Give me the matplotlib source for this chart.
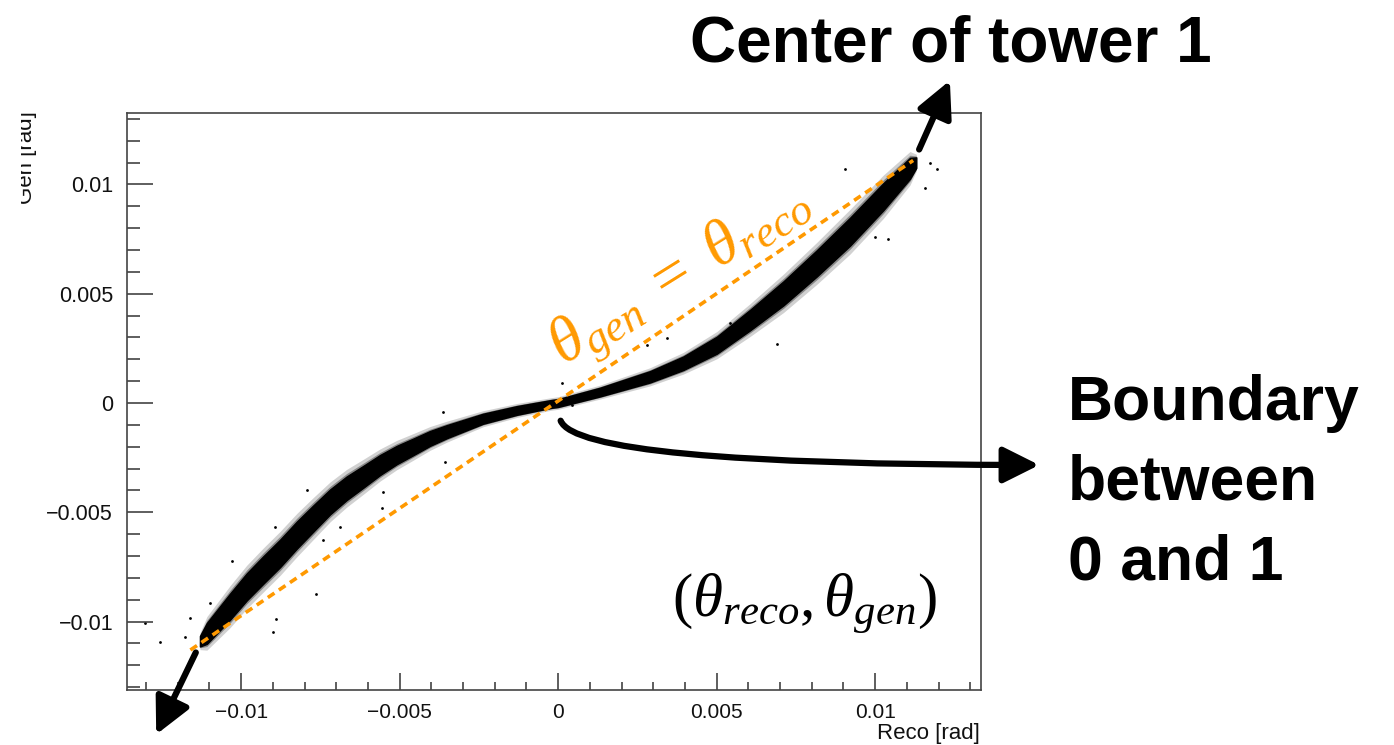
import matplotlib
matplotlib.use("Agg")
import matplotlib.pyplot as plt
from matplotlib.patches import FancyArrowPatch, Rectangle
import numpy as np

# band centre line (reco, gen)
band_x = [-0.0113, -0.01108, -0.01035, -0.00982, -0.0093, -0.00877, -0.00824, -0.00772,
          -0.00719, -0.00667, -0.00614, -0.00562, -0.00509, -0.00456, -0.00404, -0.00351,
          -0.00237, -0.0013, -0.00025, 0.0, 0.00132, 0.0029, 0.00395, 0.00501,
          0.00606, 0.00711, 0.00816, 0.00921, 0.01026, 0.0111, 0.0113]
band_y = [-0.0109, -0.01054, -0.00932, -0.00841, -0.00764, -0.00688, -0.00604, -0.00528,
          -0.00452, -0.0039, -0.00337, -0.00284, -0.00238, -0.002, -0.00162, -0.00131,
          -0.00072, -0.00034, -0.00005, 0.0, 0.0005, 0.0012, 0.00182, 0.00265,
          0.0038, 0.00502, 0.00639, 0.00784, 0.00944, 0.01074, 0.0110]
# vertical half thickness of the dense core
band_hw = [0.00024, 0.00048, 0.0006, 0.00062, 0.00063, 0.00063, 0.00062, 0.0006,
           0.00057, 0.00054, 0.0005, 0.00046, 0.00042, 0.00038, 0.00034, 0.0003,
           0.00023, 0.0002, 0.00018, 0.00018, 0.0002, 0.00026, 0.00031, 0.00039,
           0.00047, 0.00055, 0.0006, 0.00064, 0.00062, 0.00048, 0.00024]

# stray points away from the band
out_x = [-0.01256, -0.01303, -0.01177, -0.01161, -0.01098, -0.01028, -0.00899, -0.0089,
         -0.00893, -0.00792, -0.00763, -0.00741, -0.00688, -0.00555, -0.00552, -0.00363,
         -0.00356, 0.00013, 0.00044, 0.00281, 0.00344, 0.00543, 0.00691, 0.00905,
         0.01, 0.01041, 0.01158, 0.01174, 0.01196]
out_y = [-0.01094, -0.01007, -0.01071, -0.00984, -0.00915, -0.00723, -0.01048, -0.00989,
         -0.00568, -0.00398, -0.00874, -0.00627, -0.00568, -0.00481, -0.00407, -0.00041,
         -0.0027, 0.00092, -0.0001, 0.00265, 0.00297, 0.00366, 0.0027, 0.01071,
         0.0076, 0.00751, 0.00984, 0.01098, 0.01071]

# diagonal gen = reco
diag_x = [-0.0116, 0.0112]
diag_y = [-0.0113, 0.0111]

xticks = [-0.01, -0.005, 0, 0.005, 0.01]
xlabels = ["\u22120.01", "\u22120.005", "0", "0.005", "0.01"]
yticks = [-0.01, -0.005, 0, 0.005, 0.01]
ylabels = ["\u22120.01", "\u22120.005", "0", "0.005", "0.01"]

plt.rcParams['font.family'] = ['Liberation Sans', 'DejaVu Sans']
plt.rcParams['mathtext.fontset'] = 'custom'
plt.rcParams['mathtext.it'] = 'Liberation Serif:italic'
plt.rcParams['mathtext.rm'] = 'Liberation Serif'

W, H = 1394, 745
fig = plt.figure(figsize=(W / 100, H / 100), dpi=100)
ax = fig.add_axes([127 / W, 1 - 690 / H, (981 - 127) / W, (690 - 113) / H])

bx = np.array(band_x)
by = np.array(band_y)
bw = np.array(band_hw)
ax.fill_between(bx, by - 1.6 * bw, by + 1.6 * bw, color='black', alpha=0.18, lw=0)
ax.fill_between(bx, by - 1.25 * bw, by + 1.25 * bw, color='black', alpha=0.35, lw=0)
ax.fill_between(bx, by - bw, by + bw, facecolor='black', edgecolor='black', lw=1.0,
                joinstyle='round')
ax.scatter(out_x, out_y, s=4, color='black', lw=0)

ax.plot(diag_x, diag_y, color='#ff9900', lw=2.6, ls=(0, (2.2, 1.5)))

ax.set_xlim(-0.0136, 0.01334)
ax.set_ylim(-0.01313, 0.01327)
ax.set_xticks(xticks)
ax.set_xticklabels(xlabels)
ax.set_yticks(yticks)
ax.set_yticklabels(ylabels)
ax.set_xticks(np.arange(-0.013, 0.0135, 0.001), minor=True)
ax.set_yticks(np.arange(-0.013, 0.0135, 0.001), minor=True)
ax.tick_params(axis='x', which='major', direction='in', length=12, width=1.1,
               labelsize=15, pad=9, colors='#333333', labelcolor='#111111')
ax.tick_params(axis='x', which='minor', direction='in', length=6, width=1.1, colors='#333333')
ax.tick_params(axis='y', which='major', direction='in', length=19, width=1.1,
               labelsize=15.5, pad=10, colors='#333333', labelcolor='#111111')
ax.tick_params(axis='y', which='minor', direction='in', length=9.5, width=1.1, colors='#333333')
for s in ax.spines.values():
    s.set_color('#444444')
    s.set_linewidth(1.2)

fig.text(980 / W, 1 - 733 / H, "Reco [rad]", ha='right', va='center', fontsize=16, color='#111111')
fig.text(32 / W, 1 - 111 / H, "Gen [rad]", ha='right', va='baseline', rotation=90,
         rotation_mode='anchor', fontsize=16, color='#111111')
fig.patches.append(Rectangle((0, 1 - 220 / H), 21 / W, 120 / H, transform=fig.transFigure,
                             facecolor='white', edgecolor='none', zorder=5))

# annotations
fig.text(690 / W, 1 - 62 / H, "Center of tower 1", fontsize=46, fontweight='bold',
         ha='left', va='baseline')
for i, line in enumerate(["Boundary", "between", "0 and 1"]):
    fig.text(1068 / W, 1 - (420 + 80 * i) / H, line, fontsize=45, fontweight='bold',
             ha='left', va='baseline')

ax.text(0.00776, -0.0092, r"$(\theta_{reco}, \theta_{gen})$", fontsize=44,
        ha='center', va='center', color='black')
ax.text(0.00385, 0.0058, r"$\theta_{gen}\ =\ \theta_{reco}$", fontsize=46,
        ha='center', va='center', color='#ff9900', rotation=32, rotation_mode='anchor')


def fpos(px, py):
    return (px / W, 1 - py / H)


style = "-|>,head_length=1.0,head_width=0.5"
arrows = [
    (fpos(918, 152), fpos(951, 78), "arc3,rad=0"),
    (fpos(197, 650), fpos(155, 737), "arc3,rad=0"),
    (fpos(560, 418), fpos(1042, 465), "angle3,angleA=-85,angleB=0"),
]
for a, b, cs in arrows:
    fig.patches.append(FancyArrowPatch(a, b, transform=fig.transFigure, arrowstyle=style,
                                       mutation_scale=22, lw=4.5, color='black',
                                       connectionstyle=cs, zorder=6))

fig.savefig("out.png", dpi=100)
